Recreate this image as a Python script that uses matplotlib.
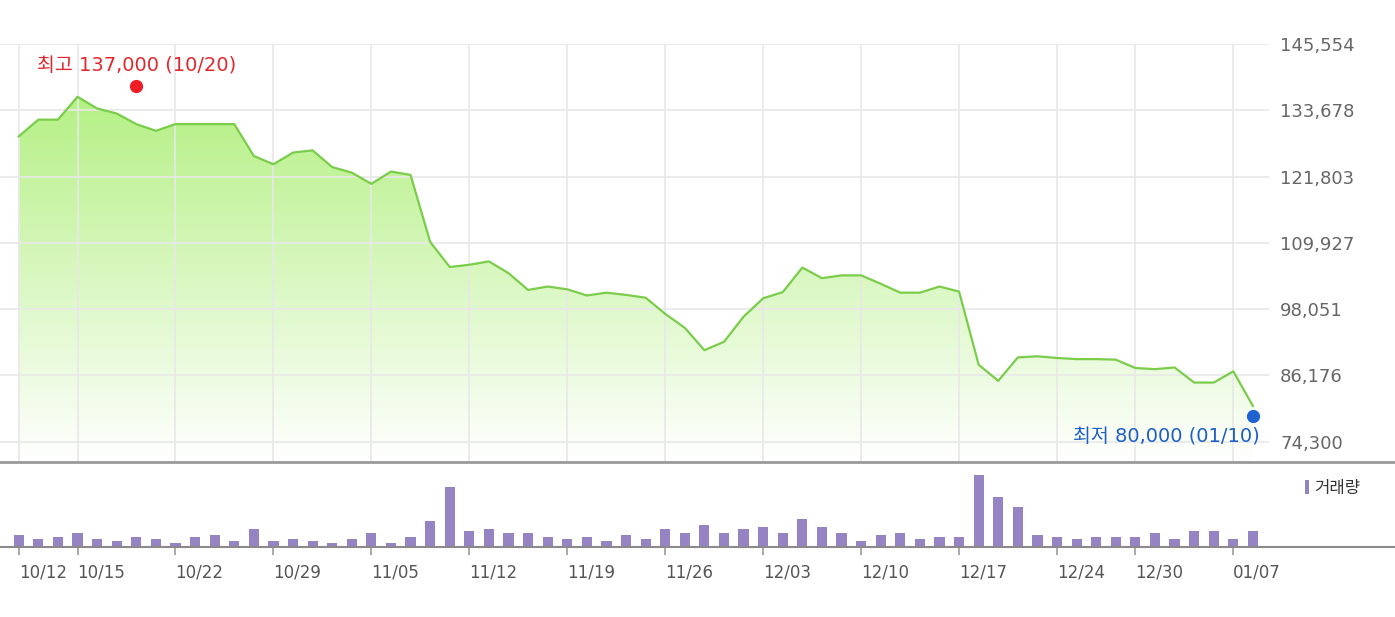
import numpy as np
import matplotlib.pyplot as plt
from matplotlib.transforms import offset_copy

plt.rcParams["font.family"] = ["DejaVu Sans", "Noto Sans CJK KR"]

# daily closes (won), 64 trading days
prices = [
    129000, 132000, 132000, 136100, 134000, 133100, 131200, 130000,
    131200, 131200, 131200, 131200, 125500, 124000, 126100, 126500,
    123500, 122500, 120500, 122700, 122100, 110100, 105600, 106000,
    106600, 104500, 101500, 102100, 101600, 100500, 101000, 100600,
    100100, 97200, 94700, 90700, 92200, 96700, 100000, 101100,
    105500, 103600, 104100, 104100, 102600, 101000, 101000, 102100,
    101200, 88100, 85200, 89400, 89600, 89300, 89100, 89100,
    89000, 87500, 87300, 87600, 84900, 84900, 86900, 80700,
]

# daily volume (relative units)
volumes = [
    120, 80, 100, 140, 80, 60, 100, 80, 40, 100, 120, 60, 180, 60, 80, 60,
    40, 80, 140, 40, 100, 260, 600, 160, 180, 140, 140, 100, 80, 100, 60, 120,
    80, 180, 140, 220, 140, 180, 200, 140, 280, 200, 140, 60, 120, 140, 80, 100,
    100, 720, 500, 400, 120, 100, 80, 100, 100, 100, 140, 80, 160, 160, 80, 160,
]

tick_idx = [0, 3, 8, 13, 18, 23, 28, 33, 38, 43, 48, 53, 57, 62]
tick_labels = ["10/12", "10/15", "10/22", "10/29", "11/05", "11/12", "11/19",
               "11/26", "12/03", "12/10", "12/17", "12/24", "12/30", "01/07"]

price_ticks = [74300, 86176, 98051, 109927, 121803, 133678, 145554]

high_value, high_date, high_mark_idx = 137000, "10/20", 6
low_value, low_date, low_mark_idx = 80000, "01/10", 63

W, H = 1395, 617
STEP, X0 = 19.59, 18.75  # pixels per trading day, first point position


def box(x0, y0, x1, y1):
    return [x0 / W, 1 - y1 / H, (x1 - x0) / W, (y1 - y0) / H]


fig = plt.figure(figsize=(W / 100, H / 100), dpi=100)
ax = fig.add_axes(box(0, 44, 1269, 462))
axv = fig.add_axes(box(0, 462, 1395, 547))

x = np.arange(len(prices))

# --- price panel ---
xlim = (-X0 / STEP, (1269 - X0) / STEP)
ylim = (70664, 145554)

fill = ax.fill_between(x, prices, ylim[0], facecolor="none", edgecolor="none")
top = np.array([170, 238, 115]) / 255
grad = np.linspace(0, 1, 256)[:, None, None]
img = top * (1 - grad) + np.ones(3) * grad
im = ax.imshow(img, extent=[*xlim, *ylim], aspect="auto",
               origin="upper", zorder=0.5)
im.set_clip_path(fill.get_paths()[0], transform=ax.transData)
ax.set_xlim(*xlim)
ax.set_ylim(*ylim)

ax.plot(x, prices, color="#7acd4a", lw=1.6, zorder=3)

ax.set_xticks(tick_idx)
ax.set_yticks(price_ticks, [f"{v:,}" for v in price_ticks])
ax.yaxis.tick_right()
ax.tick_params(axis="x", length=0, labelbottom=False)
ax.tick_params(axis="y", length=0, pad=8, labelsize=13, labelcolor="#666666")
ax.grid(color="#e8e8e8", lw=1.2, zorder=1)
for s in ax.spines.values():
    s.set_visible(False)

# high / low markers
up = offset_copy(ax.transData, fig=fig, y=6, units="dots")
down = offset_copy(ax.transData, fig=fig, y=-6, units="dots")
ax.plot(high_mark_idx, high_value, "o", color="#ee1c25", ms=8.5,
        transform=up, clip_on=False, zorder=4)
ax.annotate(f"최고 {high_value:,} ({high_date})", (high_mark_idx, high_value),
            xytext=(0, 26), textcoords="offset pixels", ha="center", va="center",
            color="#e0282e", fontsize=14)
ax.plot(low_mark_idx, low_value, "o", color="#1f62d0", ms=8.5,
        transform=down, clip_on=False, zorder=4)
ax.annotate(f"최저 {low_value:,} ({low_date})", (low_mark_idx, low_value),
            xytext=(7, -27), textcoords="offset pixels", ha="right", va="center",
            color="#1d5fc4", fontsize=14)

# --- volume panel ---
axv.bar(x, volumes, width=0.52, color="#9683c3", label="거래량")
axv.set_xlim(-X0 / STEP, (W - X0) / STEP)
axv.set_ylim(0, 850)
axv.set_yticks([])
axv.set_xticks(tick_idx, tick_labels)
for lab in axv.get_xticklabels():
    lab.set_ha("left")
axv.tick_params(axis="x", length=6, width=1.2, color="#999999", pad=6,
                labelsize=12, labelcolor="#555555")
axv.spines["left"].set_visible(False)
axv.spines["right"].set_visible(False)
axv.spines["top"].set_color("#9a9a9a")
axv.spines["top"].set_linewidth(2)
axv.spines["bottom"].set_color("#8a8a8a")
axv.spines["bottom"].set_linewidth(1.5)
leg = axv.legend(loc="upper right", bbox_to_anchor=(0.98, 0.88), frameon=False,
                 fontsize=12, handlelength=0.25, handleheight=0.9,
                 handletextpad=0.3, borderaxespad=0)
for t in leg.get_texts():
    t.set_color("#333333")

fig.savefig("out.png", dpi=100)
